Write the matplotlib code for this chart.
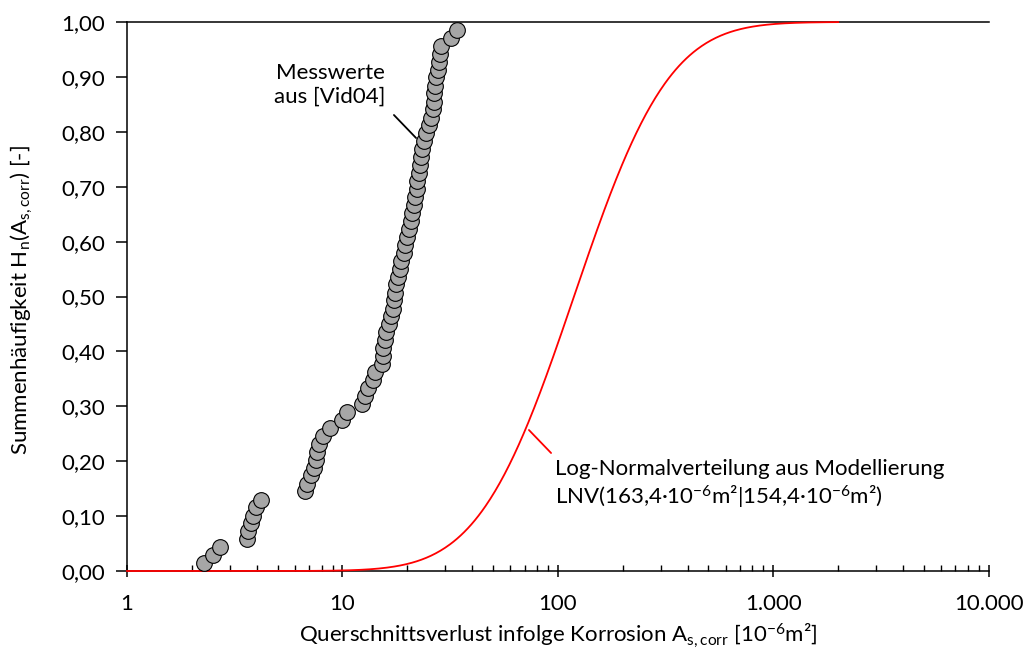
import math
import numpy as np
import matplotlib
matplotlib.use("Agg")
import matplotlib.pyplot as plt
from matplotlib.ticker import FixedLocator, FuncFormatter, LogLocator, NullFormatter

plt.rcParams["font.family"] = ["Lato", "DejaVu Sans"]
plt.rcParams["mathtext.fontset"] = "custom"
plt.rcParams["mathtext.rm"] = "Lato"
plt.rcParams["mathtext.it"] = "Lato:italic"
plt.rcParams["mathtext.default"] = "regular"

# Measured cross-section losses [10^-6 m^2], sorted ascending
loss_measured = [
    2.28, 2.51, 2.69, 3.59, 3.66, 3.76, 3.86, 3.97, 4.19,
    6.70, 6.88, 7.14, 7.38, 7.50, 7.62, 7.78, 8.08, 8.80,
    10.0, 10.5, 12.3, 12.7, 13.1, 13.9, 14.2, 15.2, 15.4, 15.4,
    15.7, 16.0, 16.4, 16.8, 17.1, 17.3, 17.5, 17.8, 18.1, 18.4,
    18.7, 19.3, 19.6, 20.0, 20.4, 20.7, 21.0, 21.4, 21.7, 22.1,
    22.3, 22.6, 22.9, 23.2, 23.5, 23.8, 24.3, 25.1, 25.9, 26.3,
    26.5, 26.6, 27.0, 27.3, 27.8, 28.1, 28.5, 28.8, 31.9, 33.9,
]
# Empirical cumulative frequency H_n = i / (n + 1)
cum_freq = [
    0.014, 0.029, 0.043, 0.058, 0.072, 0.087, 0.101, 0.116, 0.130,
    0.145, 0.159, 0.174, 0.188, 0.203, 0.217, 0.232, 0.246, 0.261,
    0.275, 0.290, 0.304, 0.319, 0.333, 0.348, 0.362, 0.377, 0.391, 0.406,
    0.420, 0.435, 0.449, 0.464, 0.478, 0.493, 0.507, 0.522, 0.536, 0.551,
    0.565, 0.580, 0.594, 0.609, 0.623, 0.638, 0.652, 0.667, 0.681, 0.696,
    0.710, 0.725, 0.739, 0.754, 0.768, 0.783, 0.797, 0.812, 0.826, 0.841,
    0.855, 0.870, 0.884, 0.899, 0.913, 0.928, 0.942, 0.957, 0.971, 0.986,
]

# Log-normal model: mean and standard deviation [10^-6 m^2]
lnv_mean = 163.4
lnv_std = 154.4

x_ticks = [1, 10, 100, 1000, 10000]
x_tick_labels = ["1", "10", "100", "1.000", "10.000"]
y_ticks = [0.0, 0.1, 0.2, 0.3, 0.4, 0.5, 0.6, 0.7, 0.8, 0.9, 1.0]

# log-normal CDF from mean / std
sig = math.sqrt(math.log(1.0 + (lnv_std / lnv_mean) ** 2))
mu = math.log(lnv_mean) - 0.5 * sig ** 2
x_model = np.logspace(0, math.log10(2000), 600)
h_model = [0.5 * (1.0 + math.erf((math.log(v) - mu) / (sig * math.sqrt(2.0))))
           for v in x_model]

W, H = 1027, 653
X0, X1, Y0, Y1 = 127, 988.8, 571, 22
fig = plt.figure(figsize=(W / 100, H / 100), dpi=100)
ax = fig.add_axes([X0 / W, 1 - Y0 / H, (X1 - X0) / W, (Y0 - Y1) / H])


def px(xp):
    return 10 ** ((xp - X0) / ((X1 - X0) / 4))


def py(yp):
    return (Y0 - yp) / (Y0 - Y1)


ax.plot(x_model, h_model, color="#FF0000", lw=1.3, zorder=4, clip_on=False)
ax.scatter(loss_measured, cum_freq, s=11.3 ** 2, facecolor="#A6A6A6",
           edgecolor="black", linewidth=0.8, zorder=5, clip_on=False)

ax.set_xscale("log")
ax.set_xlim(1, 10000)
ax.set_ylim(0, 1)

ax.xaxis.set_major_locator(FixedLocator(x_ticks))
ax.set_xticklabels(x_tick_labels)
ax.xaxis.set_minor_locator(LogLocator(base=10, subs=np.arange(2, 10), numticks=50))
ax.xaxis.set_minor_formatter(NullFormatter())
ax.yaxis.set_major_locator(FixedLocator(y_ticks))
ax.yaxis.set_major_formatter(FuncFormatter(lambda v, p: f"{v:.2f}".replace(".", ",")))

ax.spines["right"].set_visible(False)
for side in ("left", "bottom", "top"):
    ax.spines[side].set_linewidth(1.1)
    ax.spines[side].set_color("black")

ax.tick_params(axis="x", which="major", direction="inout", length=9, width=1.1,
               pad=12, labelsize=16)
ax.tick_params(axis="x", which="minor", direction="in", length=4.5, width=1.0)
ax.tick_params(axis="y", which="major", direction="out", length=8, width=1.1,
               pad=8, labelsize=16)

ax.set_xlabel("Querschnittsverlust infolge Korrosion A$_{s,corr}$ [10$^{-6}$m²]",
              fontsize=16, va="center")
ax.xaxis.set_label_coords(0.5, py(636))
ax.set_ylabel("Summenhäufigkeit H$_n$(A$_{s,corr}$) [-]", fontsize=16, va="center")
ax.yaxis.set_label_coords((22 - X0) / (X1 - X0), py(300))

# annotations
ax.annotate("", xy=(px(418), py(140)), xytext=(px(392), py(113)),
            arrowprops=dict(arrowstyle="-", color="black", lw=1.3))
ax.text(px(330), py(85), "Messwerte\naus [Vid04]",
        ha="center", va="center", fontsize=16, linespacing=1.2)

ax.annotate("", xy=(px(553), py(455)), xytext=(px(527), py(428)),
            arrowprops=dict(arrowstyle="-", color="#FF0000", lw=1.3))
ax.text(px(555), py(485),
        "Log-Normalverteilung aus Modellierung\nLNV(163,4·10$^{-6}$m²|154,4·10$^{-6}$m²)",
        ha="left", va="center", fontsize=16, linespacing=1.25)

fig.savefig("out.png", dpi=100)
